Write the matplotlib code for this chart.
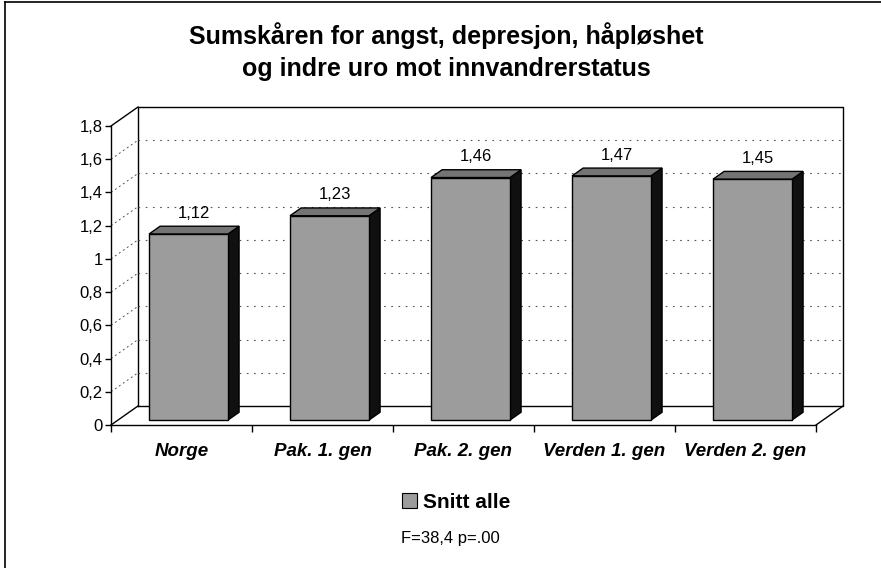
import matplotlib.pyplot as plt
from matplotlib.patches import Polygon, Patch
from matplotlib.lines import Line2D

plt.rcParams['font.family'] = ['Liberation Sans', 'DejaVu Sans']

# data
categories = ['Norge', 'Pak. 1. gen', 'Pak. 2. gen', 'Verden 1. gen', 'Verden 2. gen']
values = [1.12, 1.23, 1.46, 1.47, 1.45]
yticks = [0, 0.2, 0.4, 0.6, 0.8, 1.0, 1.2, 1.4, 1.6, 1.8]
ytick_labels = ['0', '0,2', '0,4', '0,6', '0,8', '1', '1,2', '1,4', '1,6', '1,8']
series_name = 'Snitt alle'
stat_text = 'F=38,4 p=.00'

W, H = 881, 568
fig = plt.figure(figsize=(W / 100, H / 100), dpi=100)
ax = fig.add_axes([111 / W, 143 / H, 705 / W, 299 / H])
ax.set_xlim(0, 5)
ax.set_ylim(0, 1.8)

# 3d depth offset (category units, value units)
DX = 27 / 141
DY = 19 / 166
d0, bd = 0.26, 0.41      # bar start depth and bar depth
bw = 0.56                # bar width

front_col = '#9c9c9c'
top_col = '#747474'
side_col = '#101010'

# back wall and floor
ax.plot([DX, DX, 5 + DX, 5 + DX, DX], [DY, 1.8 + DY, 1.8 + DY, DY, DY],
        color='black', lw=1, clip_on=False, zorder=1)
ax.plot([0, DX], [0, DY], color='black', lw=1, clip_on=False, zorder=1)
ax.plot([5, 5 + DX], [0, DY], color='black', lw=1, clip_on=False, zorder=1)
ax.plot([0, DX], [1.8, 1.8 + DY], color='black', lw=1, clip_on=False, zorder=1)
for y in yticks[1:-1]:
    ax.plot([DX, 5 + DX], [y + DY, y + DY], color='#555555', lw=0.8,
            dashes=(1.5, 5), clip_on=False, zorder=1)
    ax.plot([0, DX], [y, y + DY], color='#555555', lw=0.7,
            dashes=(2, 3), clip_on=False, zorder=1)

# bars
for i, v in enumerate(values):
    x0 = i + 0.5 - bw / 2 + d0 * DX
    x1 = x0 + bw
    yb = d0 * DY
    yt = yb + v
    ddx, ddy = bd * DX, bd * DY
    side = Polygon([(x1, yb), (x1 + ddx, yb + ddy), (x1 + ddx, yt + ddy), (x1, yt)],
                   closed=True, facecolor=side_col, edgecolor='black', lw=1,
                   clip_on=False, zorder=3)
    top = Polygon([(x0, yt), (x1, yt), (x1 + ddx, yt + ddy), (x0 + ddx, yt + ddy)],
                  closed=True, facecolor=top_col, edgecolor='black', lw=1,
                  clip_on=False, zorder=3)
    front = Polygon([(x0, yb), (x1, yb), (x1, yt), (x0, yt)],
                    closed=True, facecolor=front_col, edgecolor='black', lw=1,
                    clip_on=False, zorder=4)
    for p in (side, top, front):
        ax.add_patch(p)
    ax.annotate(f'{v:.2f}'.replace('.', ','),
                xy=(x0 + bw / 2 + ddx / 2, yt + ddy), xytext=(0, 4),
                textcoords='offset points', ha='center', va='bottom',
                fontsize=12, zorder=5)

# axes
for s in ['top', 'right']:
    ax.spines[s].set_visible(False)
ax.spines['left'].set_linewidth(1)
ax.spines['bottom'].set_linewidth(1)
ax.set_yticks(yticks)
ax.set_yticklabels(ytick_labels, fontsize=12)
ax.tick_params(axis='y', length=4, width=1, pad=2)
ax.set_xticks(range(6))
ax.set_xticklabels([])
ax.tick_params(axis='x', which='major', length=5, width=1)
ax.set_xticks([i + 0.5 for i in range(5)], minor=True)
ax.set_xticklabels(categories, minor=True, fontsize=13.5,
                   fontweight='bold', fontstyle='italic')
ax.tick_params(axis='x', which='minor', length=0, pad=13)
ax.patch.set_visible(False)

# title
fig.text(446 / W, 1 - 52 / H, 'Sumskåren for angst, depresjon, håpløshet\nog indre uro mot innvandrerstatus',
         ha='center', va='center', fontsize=18, fontweight='bold', linespacing=1.42)

# legend
fig.legend(handles=[Patch(facecolor=front_col, edgecolor='black', lw=0.8)],
           labels=[series_name], loc='center left', bbox_to_anchor=(402 / W, 1 - 502 / H),
           frameon=False, prop={'weight': 'bold', 'size': 15},
           borderpad=0, borderaxespad=0,
           handlelength=0.7, handleheight=0.7, handletextpad=0.3)
fig.text(450 / W, 1 - 539 / H, stat_text, ha='center', va='center', fontsize=12)

# outer frame
fig.add_artist(Line2D([5 / W, 5 / W], [0, 1 - 2 / H], color='black', lw=1.2))
fig.add_artist(Line2D([5 / W, 1], [1 - 2 / H, 1 - 2 / H], color='black', lw=1.2))

fig.savefig('out.png', dpi=100)
